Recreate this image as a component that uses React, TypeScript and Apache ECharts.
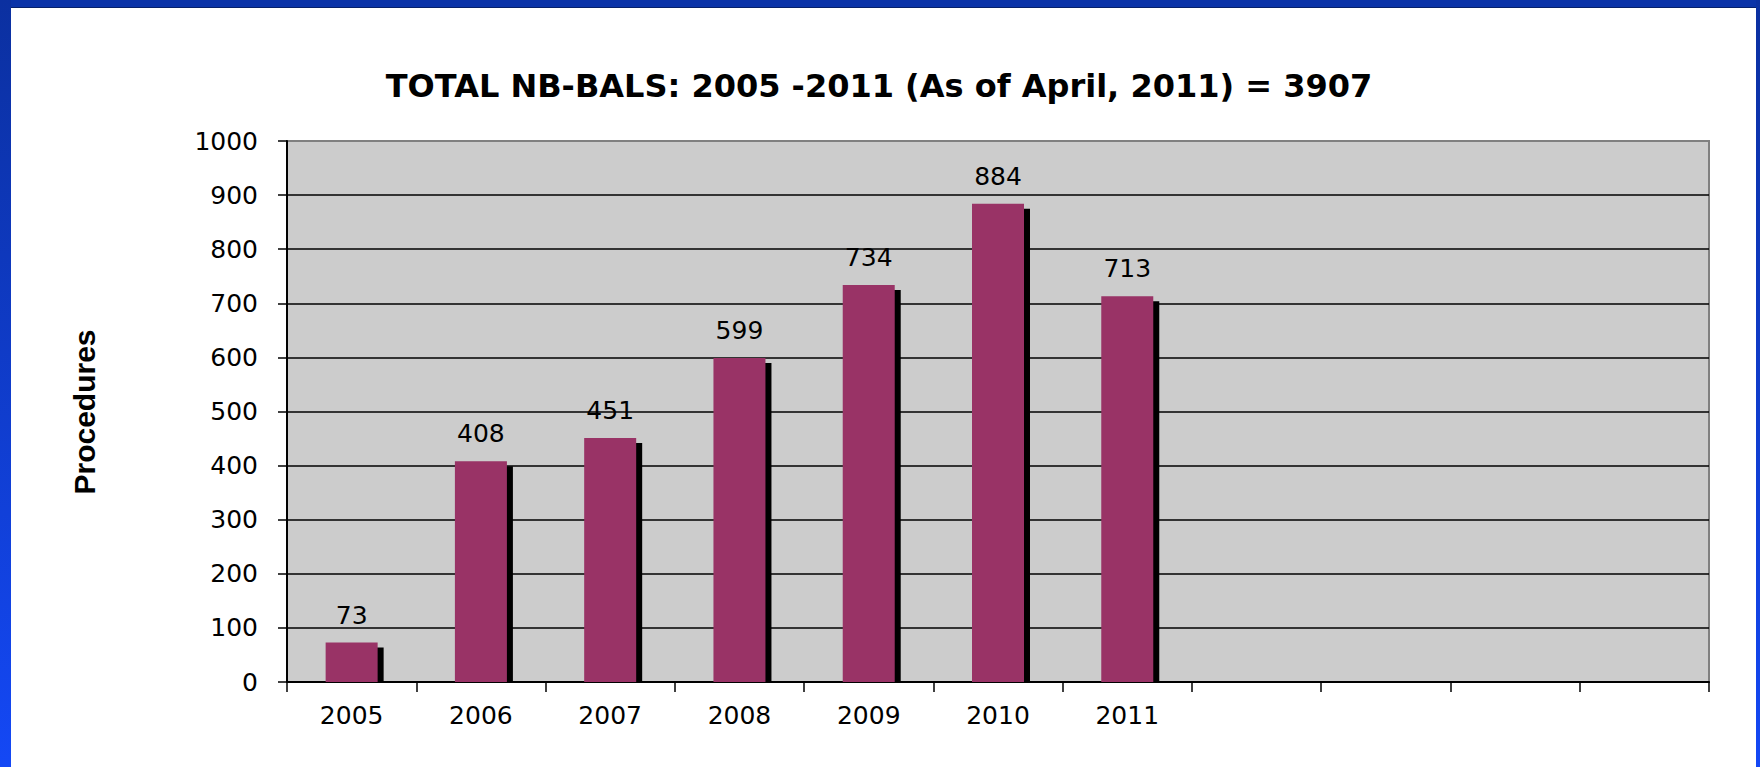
import React, { useEffect, useRef } from 'react';
import * as echarts from 'echarts';

const categories = ['2005', '2006', '2007', '2008', '2009', '2010', '2011', '', '', '', ''];
const procedures = [73, 408, 451, 599, 734, 884, 713];
const yMin = 0;
const yMax = 1000;
const yInterval = 100;
const titleText = 'TOTAL NB-BALS: 2005 -2011 (As of April, 2011) = 3907';
const yAxisTitle = 'Procedures';

const FONT = '"DejaVu Sans", Verdana, sans-serif';
const BAR_W = 52;

export default function App() {
  const ref = useRef<HTMLDivElement>(null);

  useEffect(() => {
    if (!ref.current) return;
    const chart = echarts.init(ref.current, undefined, { renderer: 'svg' });

    const splitColors = [];
    const nLines = Math.round((yMax - yMin) / yInterval) + 1;
    for (let i = 0; i < nLines; i++) splitColors.push(i === nLines - 1 ? '#808080' : '#000000');

    chart.setOption({
      animation: false,
      backgroundColor: '#ffffff',
      title: {
        text: titleText,
        left: 874,
        top: 65,
        textAlign: 'center',
        textStyle: { fontFamily: FONT, fontSize: 32, fontWeight: 'bold', color: '#000' },
      },
      grid: {
        left: 287,
        right: 51,
        top: 141,
        bottom: 85,
        show: true,
        backgroundColor: '#cccccc',
        borderColor: '#808080',
        borderWidth: 2,
      },
      xAxis: {
        type: 'category',
        data: categories,
        boundaryGap: true,
        axisLine: { lineStyle: { color: '#000', width: 2 } },
        axisTick: { show: true, interval: 0, length: 10, lineStyle: { color: '#000', width: 1.5 } },
        axisLabel: { interval: 0, margin: 21, fontFamily: FONT, fontSize: 25, color: '#000' },
        splitLine: { show: false },
      },
      yAxis: {
        type: 'value',
        min: yMin,
        max: yMax,
        interval: yInterval,
        axisLine: { show: true, lineStyle: { color: '#000', width: 2 } },
        axisTick: { show: true, length: 9, lineStyle: { color: '#000', width: 1.5 } },
        axisLabel: {
          margin: 29,
          fontFamily: FONT,
          fontSize: 25,
          color: '#000',
          formatter: (v: number) => String(v),
        },
        splitLine: { show: true, lineStyle: { color: splitColors, width: 1.5 } },
      },
      series: [
        {
          type: 'custom',
          z: 2,
          silent: true,
          data: procedures.map((v, i) => [i, v]),
          encode: { x: 0, y: 1 },
          renderItem: (params: any, api: any) => {
            const idx = api.value(0);
            const v = api.value(1);
            const top = api.coord([idx, v]);
            const base = api.coord([idx, 0]);
            return {
              type: 'rect',
              shape: {
                x: top[0] - BAR_W / 2 + 6,
                y: top[1] + 5,
                width: BAR_W,
                height: Math.max(0, base[1] - top[1] - 5),
              },
              style: { fill: '#000000' },
            };
          },
        },
        {
          type: 'bar',
          z: 3,
          data: procedures,
          barWidth: BAR_W,
          itemStyle: { color: '#993366' },
          label: {
            show: true,
            position: 'top',
            distance: 15,
            fontFamily: FONT,
            fontSize: 25,
            color: '#000',
          },
        },
      ],
      graphic: [
        {
          type: 'rect',
          z: 100,
          shape: { x: 0, y: 0, width: 1760, height: 7 },
          style: { fill: '#0b33a8' },
        },
        {
          type: 'rect',
          z: 100,
          shape: { x: 0, y: 7, width: 1760, height: 1 },
          style: { fill: '#06206a' },
        },
        {
          type: 'rect',
          z: 101,
          shape: { x: 0, y: 0, width: 11, height: 767 },
          style: {
            fill: new echarts.graphic.LinearGradient(0, 0, 0, 1, [
              { offset: 0, color: '#0b30a0' },
              { offset: 1, color: '#1448f5' },
            ]),
          },
        },
        {
          type: 'rect',
          z: 101,
          shape: { x: 1756, y: 0, width: 4, height: 767 },
          style: {
            fill: new echarts.graphic.LinearGradient(0, 0, 0, 1, [
              { offset: 0, color: '#0b30a0' },
              { offset: 1, color: '#1448f5' },
            ]),
          },
        },
        {
          type: 'text',
          x: 84,
          y: 412,
          rotation: Math.PI / 2,
          style: {
            text: yAxisTitle,
            fontFamily: '"Liberation Sans", Arial, sans-serif',
            fontSize: 30,
            fontWeight: 'bold',
            fill: '#000',
            align: 'center',
            verticalAlign: 'middle',
          },
        },
      ],
    });

    return () => chart.dispose();
  }, []);

  return (
    <div
      ref={ref}
      style={{ position: 'absolute', left: 0, top: 0, width: 1760, height: 767 }}
    />
  );
}
